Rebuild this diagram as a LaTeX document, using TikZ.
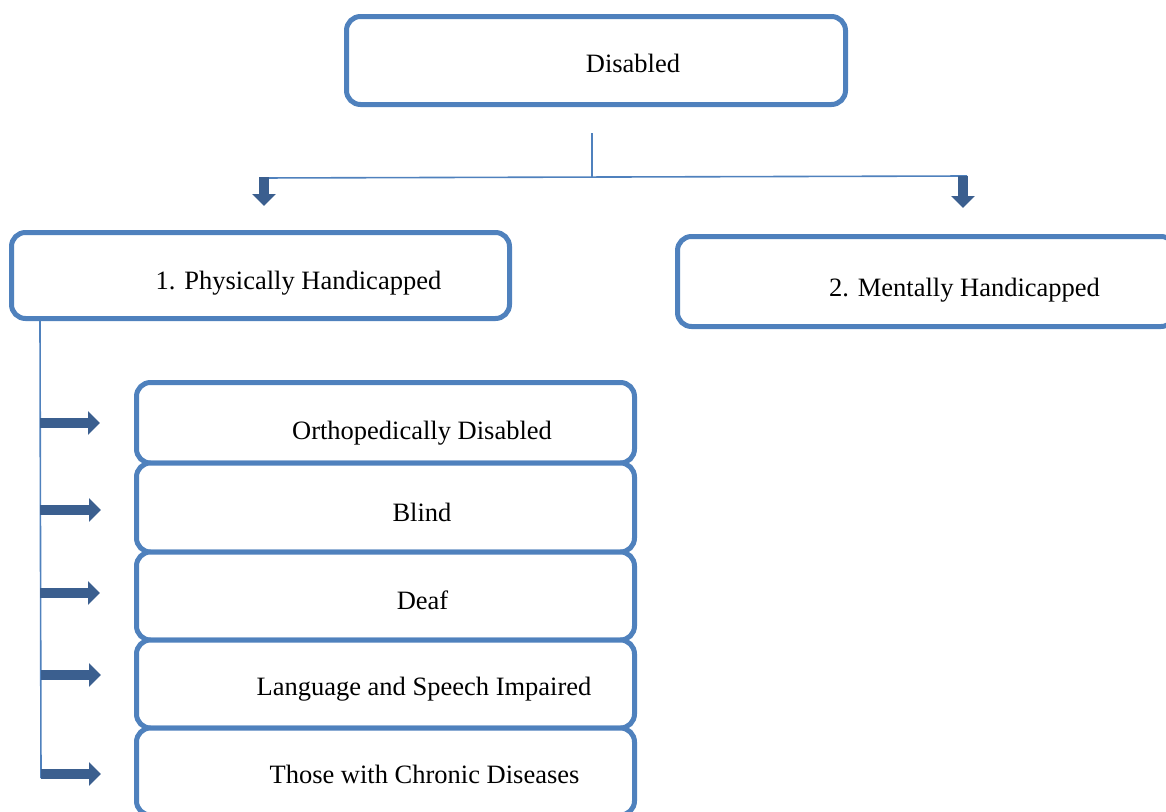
\documentclass[tikz,border=0pt]{standalone}
\usepackage{fontspec}
\setmainfont{Liberation Serif}
\usetikzlibrary{arrows.meta}
\definecolor{boxblue}{HTML}{4F81BD}
\definecolor{arrblue}{HTML}{3B5F8F}
\begin{document}
\begin{tikzpicture}[x=1pt,y=-1pt,
  box/.style={draw=boxblue, line width=5pt, rounded corners=14pt, fill=white, inner sep=0pt},
  lbl/.style={anchor=base, inner sep=0pt, font=\fontsize{26.5}{30}\selectfont},
  thinline/.style={draw=boxblue, line width=1.6pt},
  blockarrow/.style={draw=arrblue, line width=10pt, -{Triangle[length=12pt,width=23pt]}}
]
\useasboundingbox (0,0) rectangle (1166,811);

% boxes
\node[box, minimum width=499pt, minimum height=88pt] (dis) at (596,60.5) {};
\node[box, minimum width=498pt, minimum height=86pt] (phys) at (260.5,275.5) {};
\node[box, minimum width=497.5pt, minimum height=90pt] (ment) at (926.25,281.5) {};

\node[box, minimum width=498pt, minimum height=80.5pt] (orth) at (385.5,422.75) {};
\node[box, minimum width=498pt, minimum height=89pt] (blind) at (385.5,507.5) {};
\node[box, minimum width=498pt, minimum height=88pt] (deaf) at (385.5,596) {};
\node[box, minimum width=498pt, minimum height=88pt] (lang) at (385.5,684) {};
\node[box, minimum width=498pt, minimum height=87pt] (chron) at (385.5,771.5) {};

% labels
\node[lbl] (tdis) at (633,72) {Disabled};
\node[lbl] (tphys) at (298.5,289) {1. Physically Handicapped};
\node[lbl] (tment) at (964.5,296) {2. Mentally Handicapped};
\node[lbl] (torth) at (422,439) {Orthopedically Disabled};
\node[lbl] (tblind) at (422,521) {Blind};
\node[lbl] (tdeaf) at (422.5,609) {Deaf};
\node[lbl] (tlang) at (424,695) {Language and Speech Impaired};
\node[lbl] (tchron) at (424.5,783) {Those with Chronic Diseases};

% top connector
\coordinate (stemtop) at (592,133);
\coordinate (stembot) at (592,177);
\coordinate (barL) at (259,178);
\coordinate (barR) at (967,176);
\coordinate (aLs) at (264,177);
\coordinate (aLe) at (264,206);
\coordinate (aRs) at (963,176);
\coordinate (aRe) at (963,208);
\draw[thinline] (stemtop) -- (stembot);
\draw[thinline] (barL) -- (barR);
\draw[blockarrow] (aLs) -- (aLe);
\draw[blockarrow] (aRs) -- (aRe);

% trunk
\coordinate (trtop) at (40,320);
\coordinate (trbot) at (41,778);
\draw[thinline] (trtop) -- (trbot);

\coordinate (s1) at (40,423);   \coordinate (e1) at (100,423);
\coordinate (s2) at (40,510);   \coordinate (e2) at (101,510);
\coordinate (s3) at (40,593);   \coordinate (e3) at (100,593);
\coordinate (s4) at (41,675);   \coordinate (e4) at (101,675);
\coordinate (s5) at (41,774);   \coordinate (e5) at (101,774);
\draw[blockarrow] (s1) -- (e1);
\draw[blockarrow] (s2) -- (e2);
\draw[blockarrow] (s3) -- (e3);
\draw[blockarrow] (s4) -- (e4);
\draw[blockarrow] (s5) -- (e5);
\end{tikzpicture}
\end{document}
